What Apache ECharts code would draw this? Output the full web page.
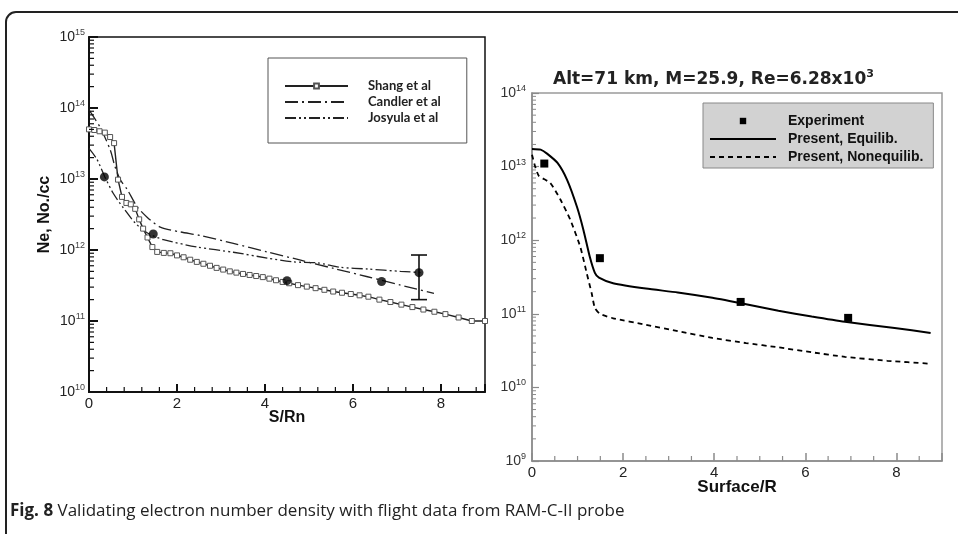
<!DOCTYPE html>
<html><head><meta charset="utf-8">
<script src="https://cdn.jsdelivr.net/npm/echarts@6/dist/echarts.min.js"></script>
<style>html,body{margin:0;padding:0;background:#fff}#c{width:958px;height:534px}</style>
</head><body><div id="c"></div>
<script>
// ---------- Left panel (S/Rn vs Ne) ----------
const shangX = [0, 0.12, 0.24, 0.36, 0.48, 0.57, 0.66, 0.75, 0.85, 0.95, 1.05, 1.14, 1.23, 1.33, 1.44, 1.55, 1.7, 1.85, 2.0, 2.15, 2.3, 2.45, 2.6, 2.75, 2.9, 3.05, 3.2, 3.35, 3.5, 3.65, 3.8, 3.95, 4.1, 4.25, 4.4, 4.55, 4.75, 4.95, 5.15, 5.35, 5.55, 5.75, 5.95, 6.15, 6.35, 6.6, 6.85, 7.1, 7.35, 7.6, 7.85, 8.1, 8.4, 8.7, 9.0];
const shangY = [5.0e13, 4.9e13, 4.7e13, 4.5e13, 3.9e13, 3.2e13, 9.8e12, 5.6e12, 4.6e12, 4.4e12, 3.8e12, 2.7e12, 2.0e12, 1.5e12, 1.1e12, 9.4e11, 9.1e11, 9.0e11, 8.4e11, 7.9e11, 7.3e11, 6.8e11, 6.4e11, 6.0e11, 5.6e11, 5.3e11, 5.0e11, 4.8e11, 4.6e11, 4.45e11, 4.3e11, 4.15e11, 3.95e11, 3.75e11, 3.55e11, 3.4e11, 3.2e11, 3.05e11, 2.9e11, 2.75e11, 2.6e11, 2.5e11, 2.4e11, 2.3e11, 2.2e11, 2.0e11, 1.85e11, 1.7e11, 1.57e11, 1.45e11, 1.35e11, 1.25e11, 1.12e11, 1.0e11, 1.0e11];
const candlerX = [0, 0.25, 0.48, 0.59, 0.71, 0.87, 1.09, 1.32, 1.62, 2.07, 2.53, 3.28, 4.05, 4.81, 5.56, 6.33, 7.08, 7.84];
const candlerY = [9.4e13, 5.4e13, 2.6e13, 1.5e13, 9.8e12, 7.1e12, 4.1e12, 2.9e12, 2.1e12, 1.8e12, 1.6e12, 1.24e12, 9.4e11, 7.2e11, 5.5e11, 4.2e11, 3.2e11, 2.45e11];
const josyulaX = [0, 0.18, 0.36, 0.55, 0.77, 1.05, 1.32, 1.69, 2.46, 3.28, 4.05, 4.65, 5.19, 5.72, 6.33, 7.08, 7.58];
const josyulaY = [2.7e13, 1.9e13, 1.07e13, 6.3e12, 4.0e12, 2.4e12, 1.75e12, 1.4e12, 1.1e12, 9.3e11, 7.7e11, 6.8e11, 6.6e11, 5.7e11, 5.4e11, 5.0e11, 4.8e11];
const flightX = [0.35, 1.46, 4.5, 6.65, 7.5];
const flightY = [1.07e13, 1.68e12, 3.7e11, 3.6e11, 4.8e11];
const errX = [7.5];
const errLow = [2.0e11];
const errHigh = [8.5e11];
const leftNames = ['Shang et al', 'Candler et al', 'Josyula et al'];

// ---------- Right panel (Surface/R) ----------
const expX = [0.27, 1.49, 4.58, 6.94];
const expY = [1.1e13, 5.7e11, 1.45e11, 8.8e10];
const eqX = [0, 0.19, 0.33, 0.56, 0.77, 0.99, 1.13, 1.27, 1.38, 1.47, 1.78, 2.5, 3.2, 3.96, 4.7, 5.41, 6.14, 6.87, 7.96, 8.75];
const eqY = [1.74e13, 1.7e13, 1.5e13, 1.12e13, 6.6e12, 2.8e12, 1.37e12, 5.9e11, 3.6e11, 3.1e11, 2.6e11, 2.2e11, 1.95e11, 1.65e11, 1.35e11, 1.1e11, 9.2e10, 7.8e10, 6.4e10, 5.5e10];
const neqX = [0, 0.07, 0.15, 0.4, 0.62, 0.84, 1.06, 1.2, 1.31, 1.38, 1.49, 1.78, 2.5, 3.2, 3.96, 4.7, 5.41, 6.14, 6.87, 7.8, 8.73];
const neqY = [1.45e13, 1.0e13, 7.5e12, 6.0e12, 3.6e12, 1.9e12, 8.1e11, 3.6e11, 1.9e11, 1.2e11, 1.0e11, 8.7e10, 7.1e10, 5.8e10, 4.7e10, 4.0e10, 3.5e10, 3.0e10, 2.6e10, 2.3e10, 2.1e10];
const rightNames = ['Experiment', 'Present, Equilib.', 'Present, Nonequilib.'];

const titleText = 'Alt=71 km, M=25.9, Re=6.28x10';
const titleSup = '3';
const captionBold = 'Fig. 8';
const captionText = ' Validating electron number density with flight data from RAM-C-II probe';

// tick helper lists (axis decoration only)
const leftXMinor = [0.4, 0.8, 1.2, 1.6, 2.4, 2.8, 3.2, 3.6, 4.4, 4.8, 5.2, 5.6, 6.4, 6.8, 7.2, 7.6, 8.4, 8.8];
const rightXMinor = [0.5, 1, 1.5, 2.5, 3, 3.5, 4.5, 5, 5.5, 6.5, 7, 7.5, 8.5];
function logMinor(e0, e1) { const a = []; for (let e = e0; e <= e1; e++) for (let m = 2; m <= 9; m++) a.push(m * Math.pow(10, e)); return a; }
const leftYMinor = logMinor(10, 14);
const rightYMinor = logMinor(9, 13);

const zip = (xs, ys) => xs.map((x, i) => [x, ys[i]]);
const FONT = 'Liberation Sans, Arial, sans-serif';

function supFormatter(v) { return '{b|10}{s|' + Math.round(Math.log10(v)) + '}'; }

function tickSeries(gi, data, dx, dy, len, color, w) {
  return {
    type: 'custom', xAxisIndex: gi, yAxisIndex: gi, silent: true, z: 5,
    data: data,
    renderItem: function (params, api) {
      const p = api.coord([api.value(0), api.value(1)]);
      return { type: 'line', shape: { x1: p[0], y1: p[1], x2: p[0] + dx * len, y2: p[1] + dy * len }, style: { stroke: color, lineWidth: w } };
    }
  };
}
const noSym = { opacity: 0 };

const chart = echarts.init(document.getElementById('c'), null, { renderer: 'canvas' });
const option = {
  animation: false,
  backgroundColor: '#fff',
  title: [{
    text: titleText + '{s|' + titleSup + '}',
    left: 548, top: 64,
    textStyle: { fontFamily: 'DejaVu Sans, sans-serif', fontSize: 17, fontWeight: 'bold', color: '#222',
      rich: { s: { fontFamily: 'DejaVu Sans, sans-serif', fontSize: 11, fontWeight: 'bold', color: '#222', padding: [0, 0, 10, 0] } } }
  }],
  grid: [
    { left: 89, top: 37, width: 396, height: 355, show: true, borderColor: '#111', borderWidth: 1.5, backgroundColor: 'transparent' },
    { left: 532, top: 93, width: 410, height: 368, show: true, borderColor: '#9a9a9a', borderWidth: 1.5, backgroundColor: 'transparent' }
  ],
  legend: [
    {
      data: [{ name: 'Shang et al' }, { name: 'Candler et al', itemStyle: noSym }, { name: 'Josyula et al', itemStyle: noSym }],
      orient: 'vertical', left: 268, top: 58,
      borderColor: '#555', borderWidth: 1, padding: [21, 26, 18, 16],
      itemWidth: 63, itemHeight: 6, itemGap: 2,
      textStyle: { fontFamily: 'Lato, sans-serif', fontWeight: 'bold', fontSize: 13, color: '#222', lineHeight: 14, padding: [0, 0, 0, 15] }
    },
    {
      data: [{ name: 'Experiment', lineStyle: { opacity: 0 } }, { name: 'Present, Equilib.', itemStyle: noSym }, { name: 'Present, Nonequilib.', itemStyle: noSym }],
      orient: 'vertical', left: 703, top: 103,
      backgroundColor: '#d2d2d2', borderColor: '#888', borderWidth: 1, padding: [10, 10, 3, 6],
      itemWidth: 66, itemHeight: 8, itemGap: 2,
      textStyle: { fontFamily: FONT, fontWeight: 'bold', fontSize: 14, color: '#111', lineHeight: 16, padding: [0, 0, 0, 7] }
    }
  ],
  xAxis: [
    {
      gridIndex: 0, type: 'value', min: 0, max: 9, interval: 2,
      axisLine: { onZero: false, lineStyle: { color: '#111', width: 2 } },
      axisTick: { inside: true, length: 8, lineStyle: { color: '#111', width: 2 } },
      axisLabel: { fontFamily: FONT, fontSize: 15, color: '#222', margin: 4, formatter: v => (v % 2 === 0 ? String(v) : '') },
      splitLine: { show: false },
      name: 'S/Rn', nameLocation: 'middle', nameGap: 18, nameMoveOverlap: false,
      nameTextStyle: { fontFamily: FONT, fontWeight: 'bold', fontSize: 16, color: '#111' }
    },
    {
      gridIndex: 1, type: 'value', min: 0, max: 9, interval: 2,
      axisLine: { onZero: false, lineStyle: { color: '#8a8a8a', width: 1.5 } },
      axisTick: { inside: true, length: 8, lineStyle: { color: '#8a8a8a', width: 1.5 } },
      axisLabel: { fontFamily: FONT, fontSize: 15, color: '#222', margin: 4, formatter: v => (v % 2 === 0 ? String(v) : '') },
      splitLine: { show: false },
      name: 'Surface/R', nameLocation: 'middle', nameGap: 18, nameMoveOverlap: false,
      nameTextStyle: { fontFamily: FONT, fontWeight: 'bold', fontSize: 17, color: '#111' }
    }
  ],
  yAxis: [
    {
      gridIndex: 0, type: 'log', logBase: 10, min: 1e10, max: 1e15, splitNumber: 5,
      axisLine: { lineStyle: { color: '#111', width: 2 } },
      axisTick: { inside: true, length: 9, lineStyle: { color: '#111', width: 2 } },
      axisLabel: { margin: 4, formatter: supFormatter,
        rich: { b: { fontFamily: FONT, fontSize: 14, color: '#222' }, s: { fontFamily: FONT, fontSize: 9, color: '#444', padding: [0, 0, 9, 0] } } },
      splitLine: { show: false },
      name: 'Ne, No./cc', nameLocation: 'middle', nameGap: 36,
      nameTextStyle: { fontFamily: FONT, fontWeight: 'bold', fontSize: 16, color: '#111' }
    },
    {
      gridIndex: 1, type: 'log', logBase: 10, min: 1e9, max: 1e14, splitNumber: 5,
      axisLine: { lineStyle: { color: '#8a8a8a', width: 1.5 } },
      axisTick: { inside: true, length: 7, lineStyle: { color: '#8a8a8a', width: 1.2 } },
      axisLabel: { margin: 6, formatter: supFormatter,
        rich: { b: { fontFamily: FONT, fontSize: 14, color: '#333' }, s: { fontFamily: FONT, fontSize: 9, color: '#333', padding: [0, 0, 9, 0] } } },
      splitLine: { show: false }
    }
  ],
  series: [
    tickSeries(0, leftYMinor.map(v => [0, v]), 1, 0, 5, '#111', 1.2),
    tickSeries(0, leftXMinor.map(v => [v, 1e10]), 0, -1, 5, '#111', 1.2),
    tickSeries(1, rightYMinor.map(v => [0, v]), 1, 0, 4, '#8a8a8a', 1),
    tickSeries(1, rightXMinor.map(v => [v, 1e9]), 0, -1, 5, '#8a8a8a', 1.2),
    {
      name: 'Shang et al', type: 'line', xAxisIndex: 0, yAxisIndex: 0,
      data: zip(shangX, shangY), symbol: 'rect', symbolSize: 5, showSymbol: true,
      lineStyle: { color: '#222', width: 1.4 },
      itemStyle: { color: '#fff', borderColor: '#555', borderWidth: 1 }, z: 3
    },
    {
      name: 'Candler et al', type: 'line', xAxisIndex: 0, yAxisIndex: 0,
      data: zip(candlerX, candlerY), symbol: 'none', smooth: 0.25,
      lineStyle: { color: '#222', width: 1.3, type: [13, 4, 2, 4] }, itemStyle: { color: '#222' }
    },
    {
      name: 'Josyula et al', type: 'line', xAxisIndex: 0, yAxisIndex: 0,
      data: zip(josyulaX, josyulaY), symbol: 'none', smooth: 0.25,
      lineStyle: { color: '#222', width: 1.3, type: [11, 3, 2, 3, 2, 3] }, itemStyle: { color: '#222' }
    },
    {
      name: 'Flight data', type: 'scatter', xAxisIndex: 0, yAxisIndex: 0,
      data: zip(flightX, flightY), symbol: 'circle', symbolSize: 9, itemStyle: { color: '#000' }, z: 6
    },
    {
      name: 'Error bar', type: 'custom', xAxisIndex: 0, yAxisIndex: 0, silent: true, z: 6,
      data: errX.map((x, i) => [x, errLow[i], errHigh[i]]),
      encode: { x: 0, y: [1, 2] },
      renderItem: function (params, api) {
        const lo = api.coord([api.value(0), api.value(1)]);
        const hi = api.coord([api.value(0), api.value(2)]);
        const w = 8, st = { stroke: '#111', lineWidth: 1.6 };
        return { type: 'group', children: [
          { type: 'line', shape: { x1: lo[0], y1: lo[1], x2: hi[0], y2: hi[1] }, style: st },
          { type: 'line', shape: { x1: lo[0] - w, y1: lo[1], x2: lo[0] + w, y2: lo[1] }, style: st },
          { type: 'line', shape: { x1: hi[0] - w, y1: hi[1], x2: hi[0] + w, y2: hi[1] }, style: st }
        ] };
      }
    },
    {
      name: 'Experiment', type: 'line', xAxisIndex: 1, yAxisIndex: 1,
      data: zip(expX, expY), symbol: 'rect', symbolSize: 8, showSymbol: true,
      lineStyle: { width: 0, opacity: 0 }, itemStyle: { color: '#000' }, z: 6
    },
    {
      name: 'Present, Equilib.', type: 'line', xAxisIndex: 1, yAxisIndex: 1,
      data: zip(eqX, eqY), symbol: 'none', smooth: 0.2,
      lineStyle: { color: '#000', width: 2 }, itemStyle: { color: '#000' }
    },
    {
      name: 'Present, Nonequilib.', type: 'line', xAxisIndex: 1, yAxisIndex: 1,
      data: zip(neqX, neqY), symbol: 'none', smooth: 0.2,
      lineStyle: { color: '#000', width: 1.8, type: [5, 4] }, itemStyle: { color: '#000' }
    }
  ],
  graphic: [
    { type: 'rect', z: -10, shape: { x: 6, y: 12, width: 1000, height: 600, r: 10 }, style: { fill: 'none', stroke: '#222', lineWidth: 2 } },
    { type: 'text', x: 10, y: 511, style: {
        text: '{b|' + captionBold + '}' + captionText,
        fontFamily: 'Open Sans, sans-serif', fontSize: 17, fill: '#222', verticalAlign: 'middle',
        rich: { b: { fontFamily: 'Open Sans, sans-serif', fontSize: 17, fontWeight: 'bold', fill: '#222' } }
      } }
  ]
};
chart.setOption(option);
</script>
</body></html>
